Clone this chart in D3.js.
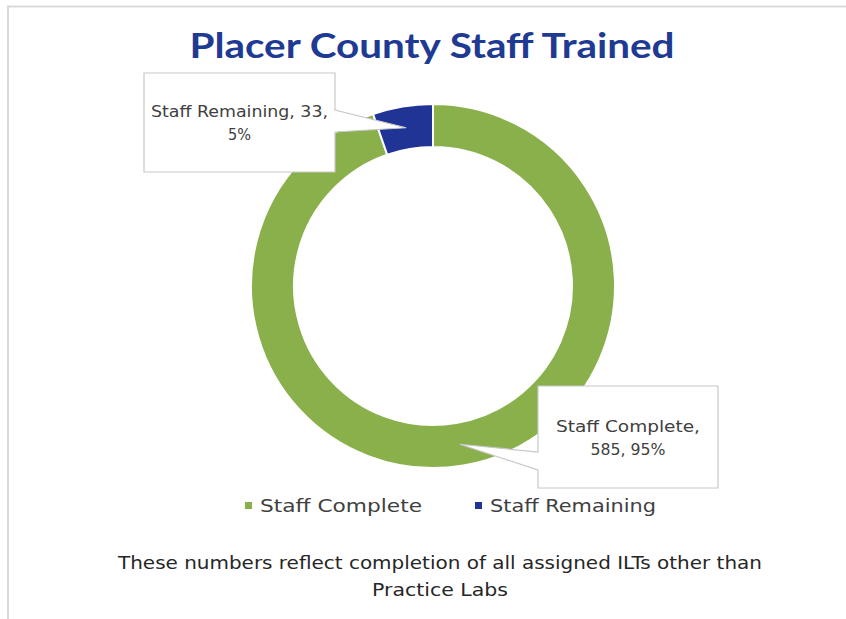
<!DOCTYPE html>
<html><head><meta charset="utf-8">
<script src="https://cdn.jsdelivr.net/npm/d3@7"></script>
<style>html,body{margin:0;padding:0;background:#fff;overflow:hidden}</style>
</head><body>
<svg id="chart" width="846" height="619"></svg>
<script>
const title = "Placer County Staff Trained";
const categories = ["Staff Complete", "Staff Remaining"];
const values = [585, 33];
const percentLabels = ["95%", "5%"];
const colors = ["#8AB04C", "#1F3494"];
const footnote = ["These numbers reflect completion of all assigned ILTs other than", "Practice Labs"];

const font = "'DejaVu Sans', Lato, sans-serif";
const svg = d3.select("#chart");

// fit helper: shrink/stretch text to a target width
function fit(sel, w) { sel.attr("textLength", w).attr("lengthAdjust", "spacingAndGlyphs"); return sel; }

// chart border
svg.append("rect").attr("x", 8).attr("y", 6.5).attr("width", 900).attr("height", 700)
  .attr("fill", "#fff").attr("stroke", "#d9d9d9").attr("stroke-width", 2);

fit(svg.append("text").attr("x", 432).attr("y", 58).attr("text-anchor", "middle")
  .attr("font-family", "Lato, sans-serif").attr("font-weight", 700).attr("font-size", 34)
  .attr("fill", "#1F3A93").text(title), 485);

const cx = 433, cy = 286, rOuter = 182, rInner = 139;
const pie = d3.pie().sort(null).value(d => d)(values);
const arc = d3.arc().innerRadius(rInner).outerRadius(rOuter);
const g = svg.append("g").attr("transform", `translate(${cx},${cy})`);
g.selectAll("path").data(pie).join("path")
  .attr("d", arc).attr("fill", (d, i) => colors[i])
  .attr("stroke", "#fff").attr("stroke-width", 2);

// callouts
const callouts = [
  {i: 0, box: [538, 386, 718, 488], side: "left", base: [452, 470], lines: [categories[0] + ",", values[0] + ", " + percentLabels[0]], widths: [144, 75]},
  {i: 1, box: [144, 73, 335, 172], side: "right", base: [110, 132], lines: [categories[1] + ", " + values[1] + ",", percentLabels[1]], widths: [177, 23]}
];
callouts.forEach(c => {
  const [x0, y0, x1, y1] = c.box;
  const ct = arc.centroid(pie[c.i]);
  const tx = cx + ct[0], ty = cy + ct[1];
  let p;
  if (c.side === "left") {
    p = `M${x0},${y0}L${x1},${y0}L${x1},${y1}L${x0},${y1}L${x0},${c.base[1]}L${tx},${ty}L${x0},${c.base[0]}Z`;
  } else {
    p = `M${x0},${y0}L${x1},${y0}L${x1},${c.base[0]}L${tx},${ty}L${x1},${c.base[1]}L${x1},${y1}L${x0},${y1}Z`;
  }
  svg.append("path").attr("d", p).attr("fill", "#fff").attr("stroke", "#c8c8c8").attr("stroke-width", 1.2);
  const mx = (x0 + x1) / 2, my = (y0 + y1) / 2;
  c.lines.forEach((t, k) => {
    fit(svg.append("text").attr("x", mx).attr("y", my - 11.5 + k * 23 + 6)
      .attr("text-anchor", "middle").attr("font-family", font).attr("font-size", 16)
      .attr("fill", "#404040").text(t), c.widths[k]);
  });
});

// legend
const legX = [245, 475];
const legW = [162, 166];
categories.forEach((c, i) => {
  svg.append("rect").attr("x", legX[i]).attr("y", 502).attr("width", 7).attr("height", 7).attr("fill", colors[i]);
  fit(svg.append("text").attr("x", legX[i] + 15).attr("y", 512).attr("font-family", font)
    .attr("font-size", 18).attr("fill", "#404040").text(c), legW[i]);
});

const footW = [644, 136];
footnote.forEach((t, k) => {
  fit(svg.append("text").attr("x", 440).attr("y", 569 + k * 27).attr("text-anchor", "middle")
    .attr("font-family", font).attr("font-size", 17).attr("fill", "#262626").text(t), footW[k]);
});
</script>
</body></html>
